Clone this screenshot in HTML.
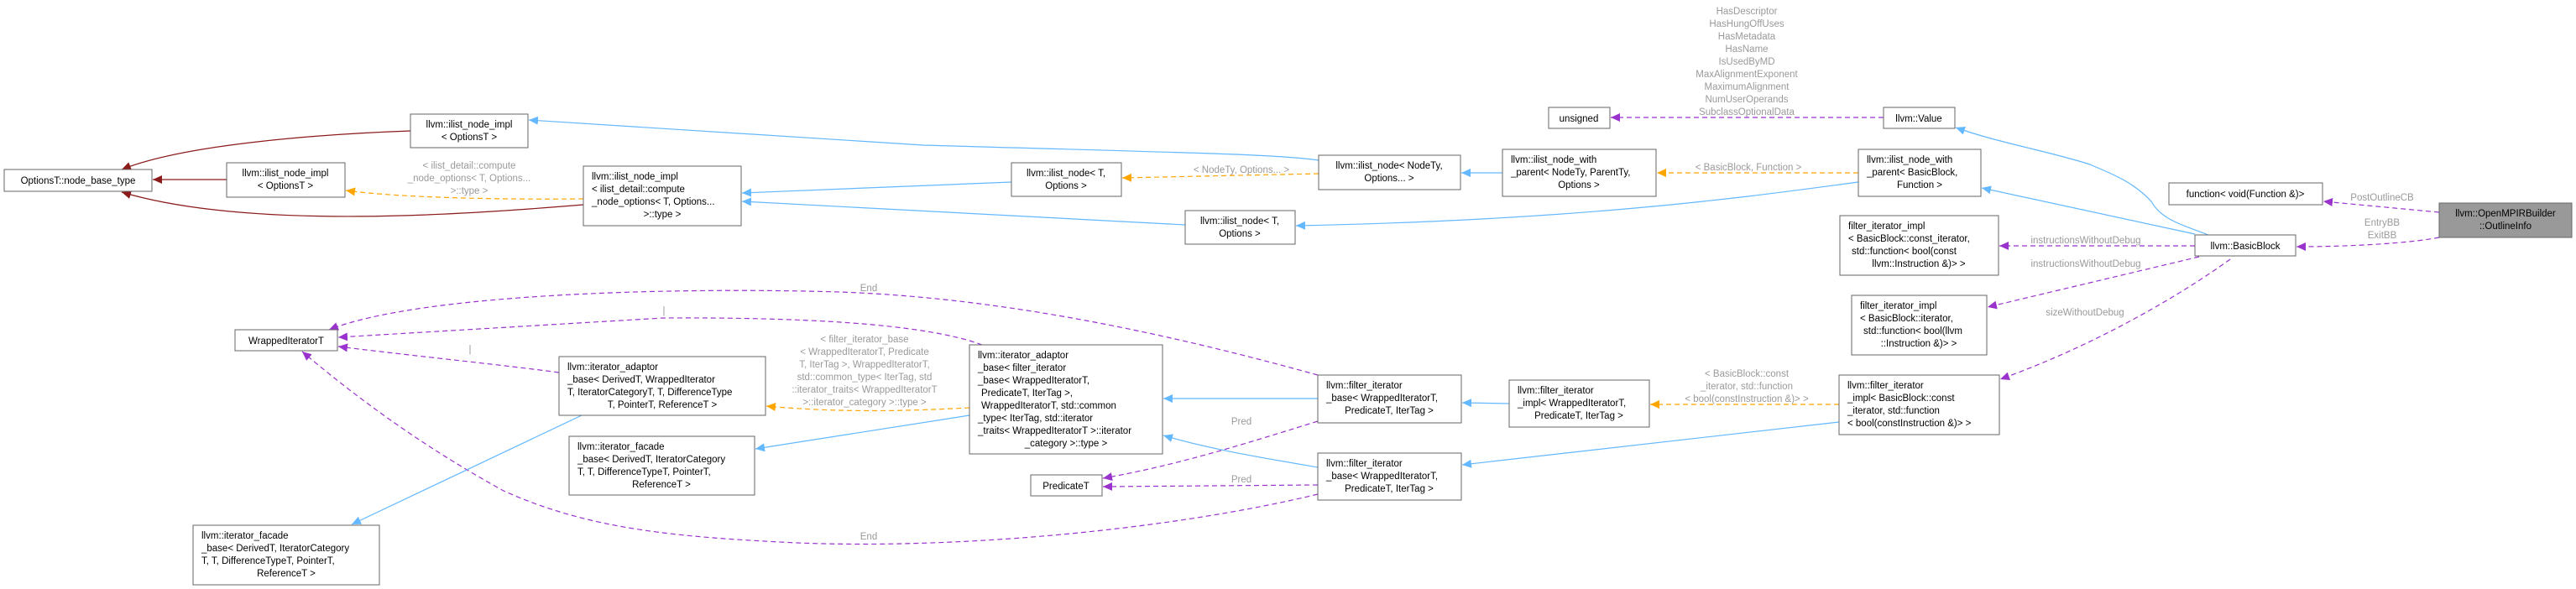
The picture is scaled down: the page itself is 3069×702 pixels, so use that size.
<!DOCTYPE html>
<html><head><meta charset="utf-8"><style>
html,body{margin:0;padding:0;background:#fff;}
svg{display:block;}
text{font-family:"Liberation Sans",sans-serif;font-size:11.5px;}
.n{fill:#000;text-anchor:middle;}
.s{fill:#000;text-anchor:start;}
.l{fill:#9a9a9a;text-anchor:middle;}
rect{fill:#fff;stroke:#666;stroke-width:1;}
.b{fill:none;stroke:#63b8ff;stroke-width:1.2;}
.r{fill:none;stroke:#8b1a1a;stroke-width:1.2;}
.o{fill:none;stroke:#ffa500;stroke-width:1.2;stroke-dasharray:6,4;}
.p{fill:none;stroke:#9a32cd;stroke-width:1.2;stroke-dasharray:6,4;}
</style></head><body>
<svg width="3069" height="702" viewBox="0 0 3069 702" xmlns="http://www.w3.org/2000/svg">
<defs>
<marker id="mb" markerWidth="12" markerHeight="10" refX="11" refY="5" orient="auto" markerUnits="userSpaceOnUse"><path d="M0,0 L11,5 L0,10 z" fill="#63b8ff"/></marker>
<marker id="mr" markerWidth="12" markerHeight="10" refX="11" refY="5" orient="auto" markerUnits="userSpaceOnUse"><path d="M0,0 L11,5 L0,10 z" fill="#8b1a1a"/></marker>
<marker id="mo" markerWidth="12" markerHeight="10" refX="11" refY="5" orient="auto" markerUnits="userSpaceOnUse"><path d="M0,0 L11,5 L0,10 z" fill="#ffa500"/></marker>
<marker id="mp" markerWidth="12" markerHeight="10" refX="11" refY="5" orient="auto" markerUnits="userSpaceOnUse"><path d="M0,0 L11,5 L0,10 z" fill="#9a32cd"/></marker>
</defs>

<!-- edges -->
<path class="r" marker-end="url(#mr)" d="M489,156 C380,160 220,172 145,202"/>
<path class="r" marker-end="url(#mr)" d="M270,214 L182,214"/>
<path class="r" marker-end="url(#mr)" d="M695,244 C560,255 300,275 145,229"/>
<path class="o" marker-end="url(#mo)" d="M695,237 C600,238 480,236 412,227"/>
<path class="b" marker-end="url(#mb)" d="M1571,191 C1520,184 1450,183 1100,173 L630,143"/>
<path class="b" marker-end="url(#mb)" d="M1205,217 L884,230"/>
<path class="b" marker-end="url(#mb)" d="M1412,268 L884,240"/>
<path class="o" marker-end="url(#mo)" d="M1571,207 L1337,212"/>
<path class="b" marker-end="url(#mb)" d="M1790,206 L1741,206"/>
<path class="o" marker-end="url(#mo)" d="M2214,206 L1974,206"/>
<path class="b" marker-end="url(#mb)" d="M2214,217 C2100,232 1900,262 1544,269"/>
<path class="p" marker-end="url(#mp)" d="M2244,140 L1919,140"/>
<path class="b" marker-end="url(#mb)" d="M2631,280 C2600,268 2575,262 2563,240 C2540,215 2510,205 2490,196 C2440,180 2380,170 2330,152"/>
<path class="b" marker-end="url(#mb)" d="M2615,279 L2361,224"/>
<path class="p" marker-end="url(#mp)" d="M2906,253 L2768,240"/>
<path class="p" marker-end="url(#mp)" d="M2906,283 C2870,290 2800,294 2736,294"/>
<path class="p" marker-end="url(#mp)" d="M2615,293 L2382,293"/>
<path class="p" marker-end="url(#mp)" d="M2620,306 L2368,366"/>
<path class="p" marker-end="url(#mp)" d="M2657,309 C2600,350 2500,410 2383,452"/>
<path class="b" marker-end="url(#mb)" d="M2191,503 L1742,554"/>
<path class="o" marker-end="url(#mo)" d="M2191,482 L1966,482"/>
<path class="b" marker-end="url(#mb)" d="M1798,481 L1742,480"/>
<path class="b" marker-end="url(#mb)" d="M1570,475 L1386,475"/>
<path class="b" marker-end="url(#mb)" d="M1570,557 C1500,545 1440,535 1386,519"/>
<path class="p" marker-end="url(#mp)" d="M1570,447 C1400,400 1200,355 1000,348 C800,342 500,350 392,393"/>
<path class="p" marker-end="url(#mp)" d="M1170,411 C1100,385 950,378 790,379 L403,402"/>
<path class="p" marker-end="url(#mp)" d="M666,444 C600,435 500,425 403,413"/>
<path class="p" marker-end="url(#mp)" d="M1570,589 C1400,630 1150,655 950,647 C800,640 700,630 600,585 C500,530 420,470 360,419"/>
<path class="p" marker-end="url(#mp)" d="M1570,502 C1480,530 1400,555 1314,570"/>
<path class="p" marker-end="url(#mp)" d="M1570,578 L1314,580"/>
<path class="o" marker-end="url(#mo)" d="M1155,486 C1080,490 1000,492 913,484"/>
<path class="b" marker-end="url(#mb)" d="M1155,495 L900,535"/>
<path class="b" marker-end="url(#mb)" d="M693,495 L419,625"/>

<!-- edge labels -->
<text class="l" x="559" y="201">&lt; ilist_detail::compute</text>
<text class="l" x="559" y="216">_node_options&lt; T, Options...</text>
<text class="l" x="559" y="231">&gt;::type &gt;</text>
<text class="l" x="1479" y="206">&lt; NodeTy, Options... &gt;</text>
<text class="l" x="2083" y="203">&lt; BasicBlock, Function &gt;</text>
<text class="l" x="2081" y="17">HasDescriptor</text>
<text class="l" x="2081" y="32">HasHungOffUses</text>
<text class="l" x="2081" y="47">HasMetadata</text>
<text class="l" x="2081" y="62">HasName</text>
<text class="l" x="2081" y="77">IsUsedByMD</text>
<text class="l" x="2081" y="92">MaxAlignmentExponent</text>
<text class="l" x="2081" y="107">MaximumAlignment</text>
<text class="l" x="2081" y="122">NumUserOperands</text>
<text class="l" x="2081" y="137">SubclassOptionalData</text>
<text class="l" x="2838" y="239">PostOutlineCB</text>
<text class="l" x="2838" y="269">EntryBB</text>
<text class="l" x="2838" y="284">ExitBB</text>
<text class="l" x="2485" y="290">instructionsWithoutDebug</text>
<text class="l" x="2485" y="318">instructionsWithoutDebug</text>
<text class="l" x="2484" y="376">sizeWithoutDebug</text>
<text class="l" x="2081" y="449">&lt; BasicBlock::const</text>
<text class="l" x="2081" y="464">_iterator, std::function</text>
<text class="l" x="2081" y="479">&lt; bool(constInstruction &amp;)&gt; &gt;</text>
<text class="l" x="1035" y="347">End</text>
<text class="l" x="1035" y="643">End</text>
<text class="l" x="1479" y="506">Pred</text>
<text class="l" x="1479" y="575">Pred</text>
<text class="l" x="791" y="374">|</text>
<text class="l" x="560" y="420">|</text>
<text class="l" x="1030" y="408">&lt; filter_iterator_base</text>
<text class="l" x="1030" y="423">&lt; WrappedIteratorT, Predicate</text>
<text class="l" x="1030" y="438">T, IterTag &gt;, WrappedIteratorT,</text>
<text class="l" x="1030" y="453">std::common_type&lt; IterTag, std</text>
<text class="l" x="1030" y="468">::iterator_traits&lt; WrappedIteratorT</text>
<text class="l" x="1030" y="483">&gt;::iterator_category &gt;::type &gt;</text>

<!-- nodes -->
<rect x="5" y="202" width="176" height="26"/><text class="n" x="93" y="219">OptionsT::node_base_type</text>
<rect x="489" y="136" width="140" height="40"/><text class="n" x="559" y="152">llvm::ilist_node_impl</text><text class="n" x="559" y="167">&lt; OptionsT &gt;</text>
<rect x="270" y="194" width="141" height="41"/><text class="n" x="340" y="210">llvm::ilist_node_impl</text><text class="n" x="340" y="225">&lt; OptionsT &gt;</text>
<rect x="695" y="198" width="188" height="71"/><text class="s" x="705" y="214">llvm::ilist_node_impl</text><text class="s" x="705" y="229">&lt; ilist_detail::compute</text><text class="s" x="705" y="244">_node_options&lt; T, Options...</text><text class="n" x="789" y="259">&gt;::type &gt;</text>
<rect x="1205" y="194" width="131" height="40"/><text class="n" x="1270" y="210">llvm::ilist_node&lt; T,</text><text class="n" x="1270" y="225">Options &gt;</text>
<rect x="1412" y="251" width="131" height="40"/><text class="n" x="1477" y="267">llvm::ilist_node&lt; T,</text><text class="n" x="1477" y="282">Options &gt;</text>
<rect x="1571" y="185" width="169" height="41"/><text class="n" x="1655" y="201">llvm::ilist_node&lt; NodeTy,</text><text class="n" x="1655" y="216">Options... &gt;</text>
<rect x="1790" y="178" width="183" height="56"/><text class="s" x="1800" y="194">llvm::ilist_node_with</text><text class="s" x="1800" y="209">_parent&lt; NodeTy, ParentTy,</text><text class="n" x="1881" y="224">Options &gt;</text>
<rect x="1845" y="128" width="73" height="25"/><text class="n" x="1881" y="145">unsigned</text>
<rect x="2244" y="128" width="85" height="25"/><text class="n" x="2286" y="145">llvm::Value</text>
<rect x="2214" y="178" width="146" height="56"/><text class="s" x="2224" y="194">llvm::ilist_node_with</text><text class="s" x="2224" y="209">_parent&lt; BasicBlock,</text><text class="n" x="2287" y="224">Function &gt;</text>
<rect x="2192" y="257" width="189" height="71"/><text class="s" x="2202" y="273">filter_iterator_impl</text><text class="s" x="2202" y="288">&lt; BasicBlock::const_iterator,</text><text class="s" x="2206" y="303">std::function&lt; bool(const</text><text class="n" x="2286" y="318">llvm::Instruction &amp;)&gt; &gt;</text>
<rect x="2206" y="352" width="161" height="71"/><text class="s" x="2216" y="368">filter_iterator_impl</text><text class="s" x="2216" y="383">&lt; BasicBlock::iterator,</text><text class="s" x="2220" y="398">std::function&lt; bool(llvm</text><text class="n" x="2286" y="413">::Instruction &amp;)&gt; &gt;</text>
<rect x="2584" y="218" width="183" height="26"/><text class="n" x="2675" y="235">function&lt; void(Function &amp;)&gt;</text>
<rect x="2906" y="242" width="158" height="41" style="fill:#999999"/><text class="n" x="2985" y="258">llvm::OpenMPIRBuilder</text><text class="n" x="2985" y="273">::OutlineInfo</text>
<rect x="2615" y="280" width="120" height="25"/><text class="n" x="2675" y="297">llvm::BasicBlock</text>
<rect x="1570" y="447" width="171" height="57"/><text class="s" x="1580" y="463">llvm::filter_iterator</text><text class="s" x="1580" y="478">_base&lt; WrappedIteratorT,</text><text class="n" x="1655" y="493">PredicateT, IterTag &gt;</text>
<rect x="1798" y="453" width="167" height="56"/><text class="s" x="1808" y="469">llvm::filter_iterator</text><text class="s" x="1808" y="484">_impl&lt; WrappedIteratorT,</text><text class="n" x="1881" y="499">PredicateT, IterTag &gt;</text>
<rect x="2191" y="447" width="191" height="71"/><text class="s" x="2201" y="463">llvm::filter_iterator</text><text class="s" x="2201" y="478">_impl&lt; BasicBlock::const</text><text class="s" x="2201" y="493">_iterator, std::function</text><text class="s" x="2201" y="508">&lt; bool(constInstruction &amp;)&gt; &gt;</text>
<rect x="1570" y="540" width="171" height="56"/><text class="s" x="1580" y="556">llvm::filter_iterator</text><text class="s" x="1580" y="571">_base&lt; WrappedIteratorT,</text><text class="n" x="1655" y="586">PredicateT, IterTag &gt;</text>
<rect x="1155" y="411" width="230" height="130"/>
<text class="s" x="1165" y="427">llvm::iterator_adaptor</text><text class="s" x="1165" y="442">_base&lt; filter_iterator</text><text class="s" x="1165" y="457">_base&lt; WrappedIteratorT,</text><text class="s" x="1169" y="472">PredicateT, IterTag &gt;,</text><text class="s" x="1169" y="487">WrappedIteratorT, std::common</text><text class="s" x="1165" y="502">_type&lt; IterTag, std::iterator</text><text class="s" x="1165" y="517">_traits&lt; WrappedIteratorT &gt;::iterator</text><text class="n" x="1270" y="532">_category &gt;::type &gt;</text>
<rect x="1228" y="566" width="85" height="25"/><text class="n" x="1270" y="583">PredicateT</text>
<rect x="280" y="393" width="122" height="25"/><text class="n" x="341" y="410">WrappedIteratorT</text>
<rect x="666" y="425" width="246" height="70"/><text class="s" x="676" y="441">llvm::iterator_adaptor</text><text class="s" x="676" y="456">_base&lt; DerivedT, WrappedIterator</text><text class="s" x="676" y="471">T, IteratorCategoryT, T, DifferenceType</text><text class="n" x="789" y="486">T, PointerT, ReferenceT &gt;</text>
<rect x="678" y="520" width="221" height="70"/><text class="s" x="688" y="536">llvm::iterator_facade</text><text class="s" x="688" y="551">_base&lt; DerivedT, IteratorCategory</text><text class="s" x="688" y="566">T, T, DifferenceTypeT, PointerT,</text><text class="n" x="788" y="581">ReferenceT &gt;</text>
<rect x="230" y="626" width="222" height="71"/><text class="s" x="240" y="642">llvm::iterator_facade</text><text class="s" x="240" y="657">_base&lt; DerivedT, IteratorCategory</text><text class="s" x="240" y="672">T, T, DifferenceTypeT, PointerT,</text><text class="n" x="341" y="687">ReferenceT &gt;</text>
</svg>
</body></html>
